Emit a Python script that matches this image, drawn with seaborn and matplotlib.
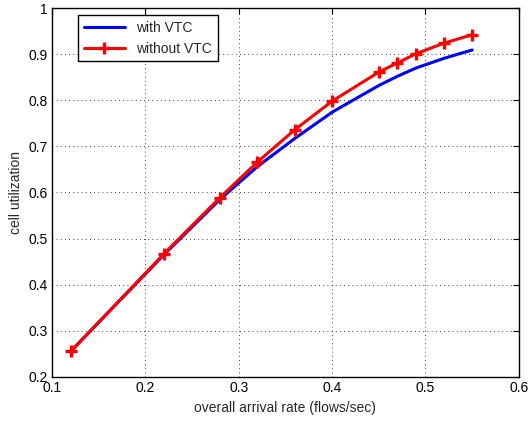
import numpy as np
import pandas as pd
import seaborn as sns
import matplotlib
matplotlib.use('Agg')
import matplotlib.pyplot as plt

# arrival rate (flows/sec)
arrival = [0.12, 0.22, 0.28, 0.32, 0.36, 0.40, 0.45, 0.47, 0.49, 0.52, 0.55]
with_vtc = [0.255, 0.465, 0.585, 0.656, 0.717, 0.774, 0.832, 0.852, 0.870, 0.891, 0.909]
without_vtc = [0.255, 0.467, 0.589, 0.666, 0.736, 0.798, 0.861, 0.881, 0.901, 0.924, 0.942]

df = pd.DataFrame({
    'rate': arrival * 2,
    'util': with_vtc + without_vtc,
    'series': ['with VTC'] * len(arrival) + ['without VTC'] * len(arrival),
})

sns.set_style('white')
plt.rcParams['font.family'] = ['Liberation Sans', 'DejaVu Sans']
plt.rcParams['font.size'] = 10

fig = plt.figure(figsize=(5.3, 4.22), dpi=100)
ax = fig.add_axes([0.098, 0.107, 0.881, 0.874])

sns.lineplot(data=df[df.series == 'with VTC'], x='rate', y='util', color='#0000ff',
             lw=2.2, ax=ax, label='with VTC')
sns.lineplot(data=df[df.series == 'without VTC'], x='rate', y='util', color='#ff0000',
             lw=2.2, marker='+', markersize=9, markeredgewidth=2.4,
             markeredgecolor='#ff0000', ax=ax, label='without VTC')

ax.set_xlim(0.1, 0.6)
ax.set_ylim(0.2, 1.0)
ax.set_xticks(np.arange(0.1, 0.61, 0.1))
ax.set_yticks(np.arange(0.2, 1.01, 0.1))
ax.set_xticklabels(['0.1', '0.2', '0.3', '0.4', '0.5', '0.6'])
ax.set_yticklabels(['0.2', '0.3', '0.4', '0.5', '0.6', '0.7', '0.8', '0.9', '1'])
ax.grid(True, color='black', linestyle=(0, (1, 4)), linewidth=0.6)
ax.tick_params(direction='in', length=4, top=True, right=True, colors='black',
               labelsize=10, pad=3)
for s in ax.spines.values():
    s.set_color('black')
    s.set_linewidth(1)

ax.set_xlabel('overall arrival rate (flows/sec)', fontsize=10, labelpad=4)
ax.set_ylabel('cell utilization', fontsize=10, labelpad=4)

leg = ax.legend(loc='upper left', bbox_to_anchor=(0.056, 0.981), borderaxespad=0,
                fontsize=10, frameon=True, fancybox=False, edgecolor='black',
                framealpha=1, handlelength=3.0, borderpad=0.4, labelspacing=0.5)
leg.get_frame().set_linewidth(1)

fig.savefig('out.png', dpi=100)
